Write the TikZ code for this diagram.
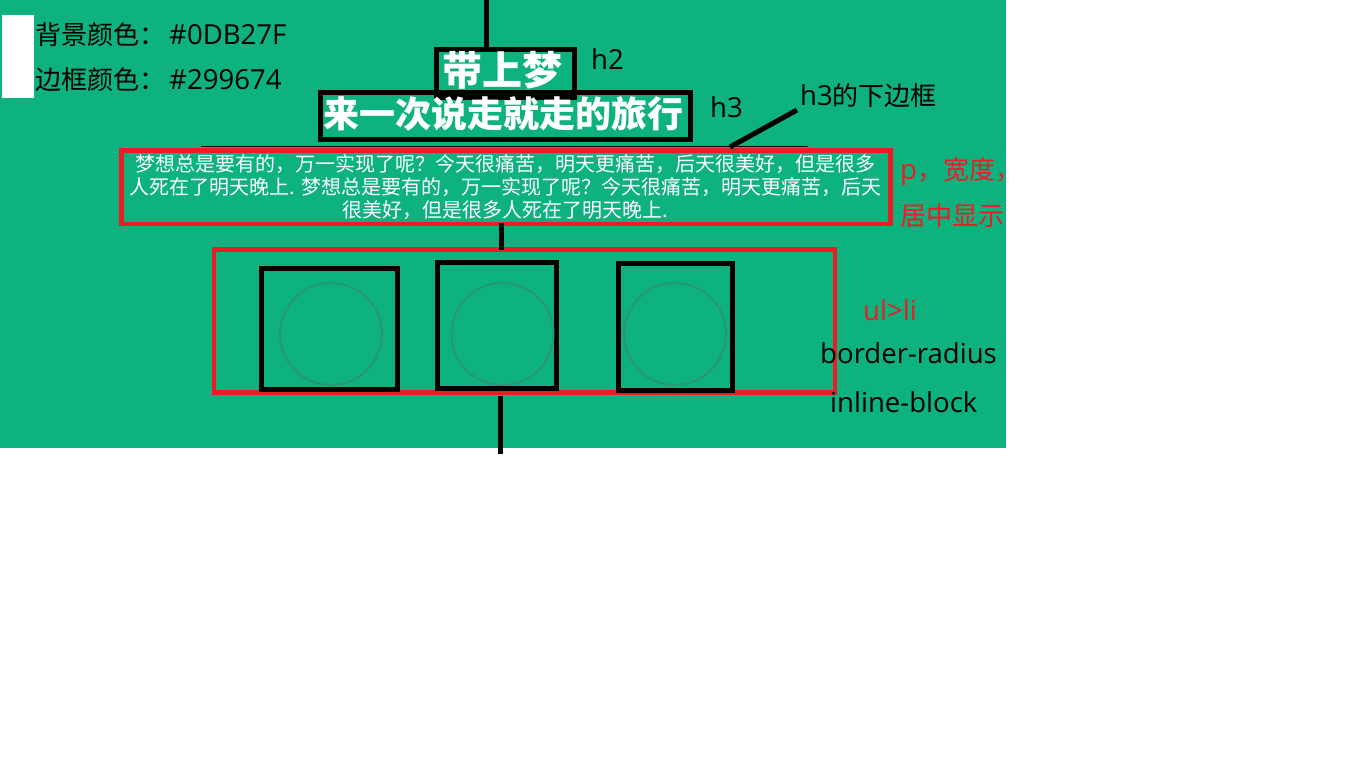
\documentclass[tikz,border=0pt]{standalone}
\usepackage{fontspec}
\newfontfamily\cjk{Noto Sans CJK SC}
\newfontfamily\lat{Open Sans}[Scale=1.06]
\definecolor{bg}{HTML}{0DB27F}
\definecolor{bd}{HTML}{299674}
\definecolor{rd}{HTML}{ED1C24}
\begin{document}
\begin{tikzpicture}[x=1pt,y=-1pt,
  blackbox/.style={draw=black,line width=5pt,inner sep=0pt,rectangle},
  redbox/.style={draw=rd,line width=4.5pt,inner sep=0pt,rectangle},
  circ/.style={draw=bd,line width=2pt,circle,inner sep=0pt,minimum size=102pt},
  conn/.style={draw=black,line width=4.5pt},
  lbl/.style={anchor=base west,inner sep=0pt,font=\fontsize{26}{30}\selectfont},
  head/.style={anchor=base,inner sep=0pt,text=white},
  ptext/.style={anchor=base,inner sep=0pt,text=white,font=\cjk\fontsize{20}{23}\selectfont}]
\useasboundingbox (0,0) rectangle (1360,776);
\fill[bg] (0,0) rectangle (1006,448);
\fill[white] (2,15) rectangle (34,97.5);
% top-left notes
\node[lbl] (n1) at (35,45) {{\cjk 背景颜色：}\hspace{4pt}{\lat\#0DB27F}};
\node[lbl] (n2) at (35,89) {{\cjk 边框颜色：}\hspace{4pt}{\lat\#299674}};
% h3 and h2 boxes
\node[blackbox,minimum width=370pt,minimum height=47pt] (h3) at (505.5,116) {};
\node[blackbox,minimum width=138pt,minimum height=48pt] (h2) at (505.5,73.5) {};
\node[head,font=\cjk\bfseries\fontsize{36}{40}\selectfont] (h3t) at (503.5,127.5) {来一次说走就走的旅行};
\node[head,font=\cjk\bfseries\fontsize{40}{44}\selectfont] (h2t) at (502.5,85.2) {带上梦};
% h3 bottom border line
\coordinate (bl1) at (201,146.5);
\coordinate (bl2) at (808,146.5);
\draw[line width=1.5pt] (bl1) -- (bl2);
% p box
\node[redbox,minimum width=769pt,minimum height=73.5pt] (p) at (506,187.25) {};
\node[ptext] (p1) at (505.5,171) {梦想总是要有的，万一实现了呢？今天很痛苦，明天更痛苦，后天很美好，但是很多};
\node[ptext] (p2) at (505.5,194) {人死在了明天晚上. 梦想总是要有的，万一实现了呢？今天很痛苦，明天更痛苦，后天};
\node[ptext] (p3) at (505.5,217) {很美好，但是很多人死在了明天晚上.};
% ul box
\node[redbox,minimum width=621pt,minimum height=143pt] (ul) at (524.5,321) {};
\node[blackbox,minimum width=136pt,minimum height=121pt] (li1) at (329.5,329) {};
\node[blackbox,minimum width=119pt,minimum height=126pt] (li2) at (497,325.5) {};
\node[blackbox,minimum width=114pt,minimum height=127pt] (li3) at (675.5,327) {};
\node[circ] (c1) at (331,334) {};
\node[circ] (c2) at (502.5,334) {};
\node[circ] (c3) at (675,334) {};
% connectors
\coordinate (t0) at (486.5,0);
\draw[conn] (t0) -- (t0 |- h2.north);
\coordinate (m0) at (501.5,0);
\draw[conn,shorten <=-3pt,shorten >=-3pt] (m0 |- p.south) -- (m0 |- ul.north);
\coordinate (b0) at (500.5,396);
\coordinate (b1) at (500.5,454);
\draw[conn] (b0) -- (b1);
% labels
\node[lbl] (lh2) at (591,70) {\lat h2};
\node[lbl] (lh3) at (710,117) {\lat h3};
\node[lbl] (lh3b) at (800,106) {{\lat h3}{\cjk 的下边框}};
\coordinate (d0) at (730,147);
\coordinate (d1) at (797,110);
\draw[line width=5pt] (d0) -- (d1);
\node[lbl,text=rd] (lp1) at (900,179) {{\lat p}{\cjk ，宽度，}};
\node[lbl,text=rd] (lp2) at (900,225) {\cjk 居中显示};
\node[lbl,text=rd] (lul) at (863,320) {\lat ul>li};
\node[lbl] (lbr) at (820,363) {\lat border-radius};
\node[lbl] (lib) at (830,412) {\lat inline-block};
\end{tikzpicture}
\end{document}
